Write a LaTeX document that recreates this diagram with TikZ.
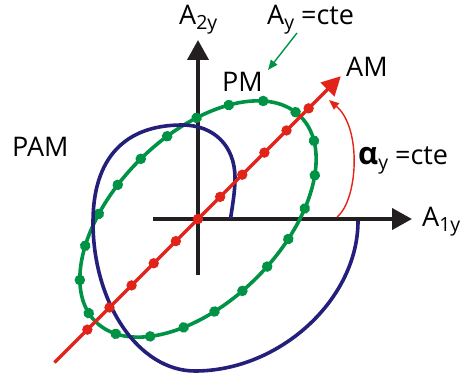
\documentclass[tikz,border=0pt]{standalone}
\usepackage{fontspec}
\setmainfont{Open Sans}
\usetikzlibrary{arrows.meta,decorations.markings}
\definecolor{cgreen}{RGB}{0,146,69}
\definecolor{cred}{RGB}{226,35,26}
\definecolor{cblue}{RGB}{35,31,122}
\definecolor{cblack}{RGB}{35,31,32}
\newcommand{\subs}[1]{\raisebox{-4.5pt}{\fontsize{19.5}{19.5}\selectfont #1}}
\tikzset{
  axisline/.style={cblack, line width=4pt, -{Triangle[length=20pt,width=21pt]}},
  lbl/.style={inner sep=0pt, anchor=base west, font=\fontsize{27}{27}\selectfont},
  thinarrow/.style={line width=1.4pt, -{Triangle[length=10pt,width=8pt]}},
  curveline/.style={line width=3.6pt},
}
\begin{document}
\begin{tikzpicture}[x=1pt,y=-1pt]
\useasboundingbox (0,0) rectangle (467,377);
\coordinate (O) at (198,219);
\coordinate (xs) at (153,219);
\coordinate (xe) at (412,219);
\coordinate (ys) at (198,275);
\coordinate (ye) at (198,40);
\draw[axisline] (xs) -- (xe);
\draw[axisline] (ys) -- (ye);

% green ellipse (PM)
\begin{scope}[shift={(O)}, x=1pt, y=1pt]
  \draw[cgreen, curveline, rotate=45, postaction={decorate},
    decoration={markings, mark=between positions 0.009 and 0.99 step 0.047619 with {\fill[cgreen] (0,0) circle (5.3pt);}}]
    (0,0) ellipse [x radius=145, y radius=83];
\end{scope}

% blue curve (PAM)
\coordinate (b0) at (230.5,219);
\coordinate (b5) at (358,221);
\draw[cblue, curveline] (b0) .. controls (232.5,205) and (235,192) .. (235,178)
  .. controls (235,146) and (214,125) .. (182,125)
  .. controls (124,125) and (93,159) .. (93,222)
  .. controls (93,304) and (139,371) .. (195,371)
  .. controls (280,371) and (358,299) .. (b5);

% red line (AM)
\begin{scope}[shift={(O)}, x=1pt, y=1pt]
  \coordinate (rs) at (225:203);
  \coordinate (re) at (45:202);
  \draw[cred, line width=3.4pt, -{Triangle[length=19pt,width=19pt]}] (rs) -- (re);
  \foreach \k in {-5,...,5} \fill[cred] (45:\k*31.3) circle (5.2pt);
\end{scope}

% labels
\node[lbl] (a2y) at (179,25) {A\subs{2y}};
\node[lbl] (ay) at (267,25) {A\subs{y} =cte};
\node[lbl] (pm) at (222,92) {PM};
\node[lbl] (am) at (346,77) {AM};
\node[lbl] (pam) at (12,157) {PAM};
\node[lbl] (al) at (358,165) {{\fontsize{31}{31}\selectfont\bfseries α}\subs{y} =cte};
\node[lbl] (a1y) at (422,227) {A\subs{1y}};

% green arrow
\coordinate (ga1) at (297,33);
\coordinate (ga2) at (268,70);
\draw[cgreen, thinarrow] (ga1) -- (ga2);

% red angle arrow
\coordinate (ra1) at (337,217);
\coordinate (ra2) at (329,100);
\draw[cred, thinarrow] (ra1) .. controls (358,200) and (362,128) .. (ra2);
\end{tikzpicture}
\end{document}
